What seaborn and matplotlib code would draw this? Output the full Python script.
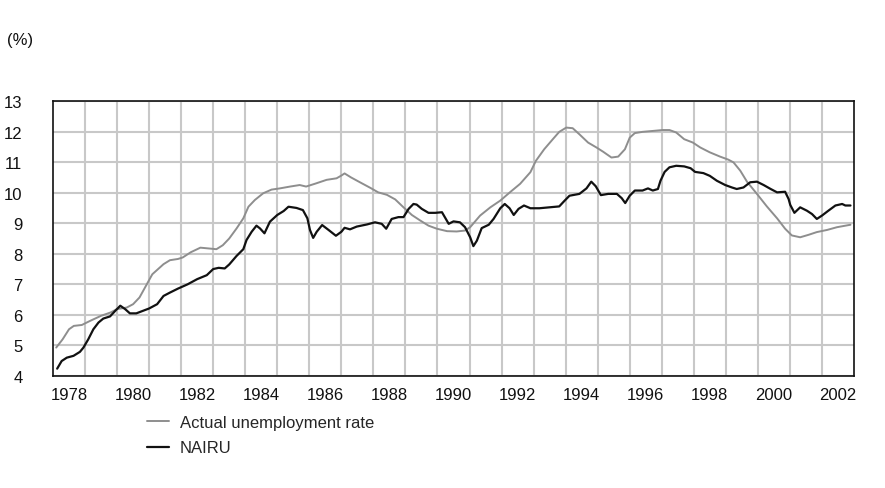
import matplotlib
matplotlib.use("Agg")
import matplotlib.pyplot as plt
import seaborn as sns
import pandas as pd

actual_years = [1978.1, 1978.3, 1978.5, 1978.65, 1978.9, 1979.15, 1979.5, 1979.8, 1980.0, 1980.3,
                1980.5, 1980.7, 1980.9, 1981.1, 1981.45, 1981.65, 1981.9, 1982.05, 1982.3, 1982.6,
                1982.8, 1983.1, 1983.3, 1983.5, 1983.73, 1983.94, 1984.1, 1984.3, 1984.56, 1984.82,
                1985.08, 1985.4, 1985.7, 1985.9, 1986.2, 1986.54, 1986.85, 1987.0, 1987.1, 1987.3,
                1987.58, 1987.9, 1988.15, 1988.42, 1988.68, 1988.94, 1989.2, 1989.46, 1989.72, 1989.98,
                1990.3, 1990.6, 1990.86, 1991.02, 1991.33, 1991.65, 1991.96, 1992.27, 1992.58, 1992.9,
                1993.07, 1993.33, 1993.6, 1993.8, 1994.02, 1994.22, 1994.43, 1994.7, 1994.96, 1995.17,
                1995.43, 1995.64, 1995.85, 1996.0, 1996.16, 1996.4, 1996.72, 1997.03, 1997.24, 1997.45,
                1997.7, 1997.97, 1998.2, 1998.5, 1998.82, 1999.08, 1999.24, 1999.45, 1999.66, 1999.97,
                2000.28, 2000.6, 2000.85, 2001.06, 2001.32, 2001.58, 2001.84, 2002.16, 2002.47, 2002.89]
actual_rate = [4.93, 5.2, 5.53, 5.64, 5.67, 5.8, 5.97, 6.08, 6.19, 6.24,
               6.35, 6.57, 6.95, 7.33, 7.66, 7.79, 7.83, 7.88, 8.05, 8.2,
               8.18, 8.15, 8.28, 8.5, 8.83, 9.16, 9.54, 9.76, 9.98, 10.1,
               10.14, 10.2, 10.25, 10.2, 10.3, 10.42, 10.47, 10.56, 10.63, 10.5,
               10.34, 10.16, 10.01, 9.93, 9.78, 9.52, 9.27, 9.09, 8.92, 8.82,
               8.74, 8.73, 8.76, 8.87, 9.25, 9.52, 9.74, 10.02, 10.29, 10.67,
               11.04, 11.42, 11.75, 11.99, 12.13, 12.11, 11.91, 11.64, 11.48, 11.34,
               11.15, 11.18, 11.42, 11.8, 11.95, 11.99, 12.02, 12.05, 12.05, 11.97,
               11.75, 11.64, 11.48, 11.32, 11.18, 11.08, 10.99, 10.72, 10.36, 9.96,
               9.55, 9.16, 8.82, 8.6, 8.54, 8.62, 8.71, 8.78, 8.87, 8.95]

nairu_years = [1978.13, 1978.27, 1978.43, 1978.64, 1978.84, 1978.95, 1979.1, 1979.26, 1979.42, 1979.57,
               1979.78, 1979.94, 1980.1, 1980.25, 1980.4, 1980.6, 1980.8, 1981.0, 1981.25, 1981.45,
               1981.65, 1981.9, 1982.2, 1982.5, 1982.8, 1983.0, 1983.17, 1983.36, 1983.5, 1983.73,
               1983.94, 1984.04, 1984.2, 1984.35, 1984.46, 1984.6, 1984.77, 1985.0, 1985.2, 1985.35,
               1985.6, 1985.8, 1985.94, 1986.02, 1986.12, 1986.23, 1986.4, 1986.6, 1986.83, 1987.0,
               1987.1, 1987.27, 1987.48, 1987.8, 1988.05, 1988.26, 1988.4, 1988.57, 1988.78, 1988.94,
               1989.1, 1989.25, 1989.35, 1989.51, 1989.72, 1989.93, 1990.14, 1990.35, 1990.5, 1990.7,
               1990.86, 1991.02, 1991.12, 1991.23, 1991.38, 1991.6, 1991.75, 1991.96, 1992.1, 1992.25,
               1992.38, 1992.53, 1992.7, 1992.9, 1993.18, 1993.5, 1993.8, 1993.97, 1994.12, 1994.43,
               1994.65, 1994.8, 1994.94, 1995.1, 1995.33, 1995.6, 1995.75, 1995.86, 1996.0, 1996.16,
               1996.4, 1996.57, 1996.72, 1996.88, 1996.96, 1997.09, 1997.24, 1997.45, 1997.7, 1997.9,
               1998.04, 1998.3, 1998.5, 1998.72, 1998.98, 1999.19, 1999.34, 1999.55, 1999.76, 1999.97,
               2000.18, 2000.4, 2000.6, 2000.85, 2000.96, 2001.01, 2001.14, 2001.32, 2001.53, 2001.69,
               2001.84, 2002.0, 2002.2, 2002.42, 2002.63, 2002.73, 2002.89]
nairu_rate = [4.24, 4.49, 4.6, 4.66, 4.79, 4.93, 5.2, 5.53, 5.75, 5.88,
              5.95, 6.13, 6.3, 6.19, 6.05, 6.05, 6.13, 6.21, 6.35, 6.62,
              6.73, 6.86, 7.0, 7.17, 7.3, 7.5, 7.54, 7.52, 7.65, 7.93,
              8.15, 8.45, 8.72, 8.92, 8.83, 8.67, 9.05, 9.27, 9.4, 9.54,
              9.5, 9.43, 9.16, 8.78, 8.52, 8.72, 8.94, 8.78, 8.59, 8.72,
              8.85, 8.8, 8.89, 8.96, 9.03, 8.98, 8.82, 9.14, 9.2, 9.2,
              9.47, 9.63, 9.61, 9.47, 9.34, 9.34, 9.36, 8.98, 9.06, 9.03,
              8.87, 8.54, 8.25, 8.43, 8.84, 8.95, 9.14, 9.49, 9.63, 9.49,
              9.27, 9.47, 9.58, 9.49, 9.49, 9.52, 9.55, 9.74, 9.9, 9.96,
              10.14, 10.36, 10.21, 9.92, 9.96, 9.96, 9.82, 9.66, 9.9, 10.07,
              10.07, 10.14, 10.07, 10.12, 10.39, 10.68, 10.83, 10.88, 10.86, 10.8,
              10.68, 10.64, 10.55, 10.39, 10.25, 10.17, 10.12, 10.17, 10.34, 10.36,
              10.25, 10.12, 10.01, 10.03, 9.79, 9.6, 9.34, 9.52, 9.41, 9.3,
              9.14, 9.25, 9.41, 9.58, 9.63, 9.58, 9.58]

series_names = ["Actual unemployment rate", "NAIRU"]
x_tick_labels = ["1978", "1980", "1982", "1984", "1986", "1988", "1990",
                 "1992", "1994", "1996", "1998", "2000", "2002"]
y_ticks = [4, 5, 6, 7, 8, 9, 10, 11, 12, 13]

sns.set_theme(style="white")
plt.rcParams["font.family"] = ["Liberation Sans", "DejaVu Sans"]

df_actual = pd.DataFrame({"year": actual_years, "rate": actual_rate, "series": series_names[0]})
df_nairu = pd.DataFrame({"year": nairu_years, "rate": nairu_rate, "series": series_names[1]})

fig = plt.figure(figsize=(8.85, 4.89), dpi=100)
ax = fig.add_axes([53 / 885, 1 - 377 / 489, (854 - 53) / 885, (377 - 102) / 489])

sns.lineplot(data=df_actual, x="year", y="rate", color="#8e8e8e", linewidth=1.4,
             label=series_names[0], ax=ax, estimator=None, sort=False, zorder=3)
sns.lineplot(data=df_nairu, x="year", y="rate", color="#111111", linewidth=1.6,
             label=series_names[1], ax=ax, estimator=None, sort=False, zorder=4)

ax.set_xlim(1978, 2003)
ax.set_ylim(4, 13)
ax.set_xlabel("")
ax.set_ylabel("")

label_pos = [int(t) + 0.5 for t in x_tick_labels]
ax.set_xticks(label_pos)
ax.set_xticklabels(x_tick_labels)
ax.set_xticks(list(range(1979, 2003)), minor=True)
ax.set_yticks(y_ticks)
ax.set_yticklabels([str(v) for v in y_ticks])

ax.grid(False, which="major", axis="x")
ax.grid(True, which="minor", axis="x", color="#c8c8c8", linewidth=1.5)
ax.grid(True, which="major", axis="y", color="#c8c8c8", linewidth=1.5)
ax.set_axisbelow(True)

ax.tick_params(axis="x", which="both", length=0, pad=8, labelsize=12, colors="#111111")
ax.tick_params(axis="y", which="both", length=0, pad=22, labelsize=12, colors="#111111")

for s in ax.spines.values():
    s.set_visible(True)
    s.set_color("#111111")
    s.set_linewidth(1.2)

ax.get_legend().remove()
handles, labels = ax.get_legend_handles_labels()
fig.legend(handles, labels, loc="upper left", bbox_to_anchor=(147 / 885, 1 - 416 / 489),
           frameon=False, fontsize=12, handlelength=1.3, handletextpad=0.65,
           labelspacing=0.62, borderpad=0, borderaxespad=0)

fig.text(7 / 885, 1 - 40 / 489, "(%)", fontsize=12, va="center", ha="left", color="#111111")

fig.savefig("out.png", dpi=100, facecolor="white")
